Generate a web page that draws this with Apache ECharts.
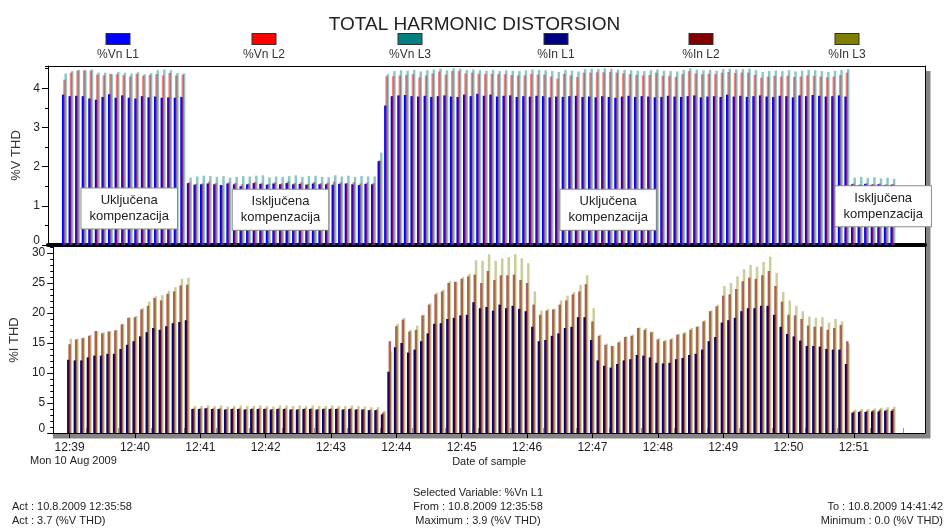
<!DOCTYPE html>
<html><head><meta charset="utf-8">
<script src="https://cdn.jsdelivr.net/npm/echarts@6/dist/echarts.min.js"></script>
<style>html,body{margin:0;padding:0;background:#fff}#c{width:949px;height:529px}</style>
</head><body><div id="c"></div>
<script>
// ---- data ----
const seriesNames = ['%Vn L1', '%Vn L2', '%Vn L3', '%In L1', '%In L2', '%In L3'];
const seriesColors = ['#0000ff', '#ff0000', '#008080', '#000080', '#800000', '#808000'];
const sampleStepSec = 6;           // one sample every 6 s, first sample at 12:39:00
const xTickSec = [0, 60, 120, 180, 240, 300, 360, 420, 480, 540, 600, 660, 720];
const xTickLabels = ['12:39', '12:40', '12:41', '12:42', '12:43', '12:44', '12:45', '12:46', '12:47', '12:48', '12:49', '12:50', '12:51'];
const xMinorSec = [15, 45, 75, 105, 135, 165, 195, 225, 255, 285, 315, 345, 375, 405, 435, 465, 495, 525, 555, 585, 615, 645, 675, 705, 735, 765];

const vnL1 = [
 3.84,3.80,3.81,3.80,3.74,3.71,3.78,3.85,3.76,3.82,3.76,3.74,3.80,3.77,3.79,3.76,3.77,3.76,3.78,
 1.58,1.54,1.55,1.57,1.55,1.53,1.57,1.55,1.50,1.55,1.58,1.56,1.54,1.57,1.55,1.58,1.55,1.56,1.54,1.57,1.55,1.55,1.54,1.56,1.57,1.55,1.53,1.56,1.55,
 2.14,3.56,
 3.80,3.82,3.83,3.80,3.79,3.81,3.78,3.80,3.82,3.79,
 3.78,3.84,3.80,3.86,3.81,3.84,3.79,3.81,3.82,3.78,
 3.80,3.79,3.81,3.80,3.77,3.79,3.78,3.80,3.81,3.78,
 3.79,3.77,3.80,3.78,3.76,3.79,3.81,3.78,3.80,3.79,
 3.77,3.78,3.81,3.79,3.78,3.80,3.82,3.77,3.79,3.80,
 3.78,3.84,3.79,3.81,3.78,3.80,3.82,3.79,3.78,3.81,
 3.80,3.77,3.82,3.80,3.83,3.81,3.79,3.80,3.82,3.79,
 1.55,1.52,1.56,1.54,1.55,1.53,1.54
];
const vnL2 = [
 4.22,4.40,4.45,4.46,4.45,4.35,4.33,4.37,4.36,4.33,4.30,4.37,4.32,4.34,4.36,4.33,4.39,4.33,4.35,
 1.60,1.56,1.57,1.62,1.58,1.52,1.60,1.59,1.55,1.57,1.61,1.58,1.56,1.60,1.57,1.62,1.58,1.60,1.56,1.61,1.58,1.59,1.62,1.60,1.58,1.60,1.57,1.59,1.58,
 2.16,4.31,
 4.31,4.33,4.34,4.36,4.28,4.33,4.38,4.43,4.35,4.44,
 4.44,4.38,4.40,4.37,4.36,4.37,4.36,4.36,4.34,4.33,
 4.33,4.37,4.35,4.35,4.30,4.25,4.37,4.33,4.29,4.40,
 4.40,4.41,4.41,4.42,4.40,4.38,4.36,4.34,4.33,4.34,
 4.40,4.32,4.32,4.29,4.36,4.44,4.38,4.36,4.37,4.36,
 4.40,4.42,4.39,4.40,4.40,4.34,4.27,4.30,4.32,4.30,
 4.32,4.29,4.30,4.33,4.32,4.30,4.28,4.30,4.34,4.40,
 1.57,1.55,1.58,1.56,1.57,1.55,1.56
];
const vnL3 = [
 4.38,4.44,4.47,4.46,4.48,4.40,4.40,4.36,4.42,4.40,4.38,4.41,4.36,4.39,4.46,4.48,4.46,4.39,4.38,
 1.72,1.75,1.77,1.76,1.74,1.76,1.72,1.74,1.76,1.75,1.77,1.78,1.73,1.75,1.74,1.76,1.78,1.74,1.76,1.77,1.74,1.73,1.78,1.75,1.77,1.74,1.76,1.75,1.75,
 2.36,4.36,
 4.44,4.46,4.45,4.47,4.43,4.46,4.48,4.50,4.46,4.51,
 4.50,4.47,4.48,4.46,4.45,4.47,4.44,4.46,4.45,4.44,
 4.46,4.48,4.47,4.46,4.44,4.42,4.47,4.45,4.43,4.49,
 4.50,4.49,4.51,4.50,4.48,4.47,4.46,4.45,4.44,4.46,
 4.48,4.45,4.44,4.43,4.47,4.51,4.48,4.46,4.47,4.45,
 4.49,4.50,4.48,4.49,4.50,4.46,4.42,4.44,4.45,4.44,
 4.46,4.43,4.45,4.47,4.46,4.44,4.42,4.45,4.47,4.49,
 1.72,1.74,1.71,1.73,1.70,1.72,1.69
];
const inL1 = [
 12.2,12.1,12.1,12.6,12.9,12.9,13.2,13.2,14.0,14.7,15.3,16.1,16.8,17.5,17.2,17.8,18.3,18.5,18.8,
 4.0,4.0,4.1,4.0,4.0,3.9,4.0,4.0,3.9,4.0,4.0,4.0,3.9,4.0,4.0,3.9,3.9,4.0,4.0,3.9,4.0,4.0,4.0,3.9,4.0,3.9,3.9,3.8,3.8,
 3.1,10.2,
 14.3,15.0,13.4,13.9,15.3,16.6,18.2,18.3,19.0,19.2,
 19.6,19.7,21.8,20.8,21.0,20.4,21.4,20.8,21.2,20.7,
 20.3,17.7,15.3,15.5,16.2,16.6,17.5,17.7,19.3,19.3,
 15.5,12.1,11.2,10.9,11.5,12.1,12.3,13.0,12.9,12.6,
 11.7,11.6,11.7,12.3,12.5,13.0,13.2,13.9,15.3,16.0,
 18.4,18.8,19.2,20.3,20.8,20.8,21.2,21.2,19.7,17.7,
 16.5,16.1,15.4,14.5,14.5,14.4,14.0,13.9,13.9,11.5,
 3.4,3.5,3.5,3.6,3.6,3.7,3.7
];
const inL2 = [
 14.8,15.6,15.8,16.2,17.0,16.6,16.9,17.1,18.1,19.2,19.3,20.6,21.2,22.5,22.1,23.2,23.6,24.6,24.7,
 4.1,4.1,4.2,4.1,4.1,4.0,4.1,4.1,4.0,4.1,4.1,4.1,4.0,4.1,4.1,4.0,4.0,4.1,4.1,4.0,4.1,4.1,4.1,4.0,4.1,4.0,4.0,3.9,3.9,
 3.4,15.3,
 17.8,18.9,16.9,17.2,19.6,21.4,23.1,23.6,25.0,25.2,
 25.7,26.1,26.4,25.0,27.0,25.5,26.3,26.3,26.4,25.5,
 25.0,21.4,19.7,20.4,20.6,21.4,22.1,23.1,23.6,24.8,
 18.6,16.2,14.7,14.5,15.1,16.0,16.2,17.5,17.2,16.8,
 15.6,15.3,15.6,16.4,16.6,17.2,17.7,18.6,20.3,21.1,
 22.9,23.1,24.0,25.3,25.9,25.7,26.3,27.0,24.5,21.9,
 19.7,19.6,19.0,17.9,17.7,17.7,17.2,17.5,18.0,15.3,
 3.6,3.7,3.7,3.8,3.9,3.9,4.0
];
const inL3 = [
 15.7,15.7,15.9,16.4,17.0,16.8,17.0,17.2,18.2,19.3,19.5,20.8,21.9,22.8,23.0,23.7,24.3,25.7,25.9,
 4.5,4.5,4.6,4.5,4.6,4.4,4.5,4.6,4.5,4.5,4.6,4.5,4.4,4.6,4.6,4.5,4.6,4.5,4.6,4.5,4.5,4.6,4.5,4.5,4.6,4.5,4.4,4.3,4.3,
 3.7,13.6,
 18.2,19.2,17.2,17.9,19.7,21.6,23.4,23.9,25.3,25.2,
 26.0,26.5,28.8,28.7,29.8,28.7,29.1,29.3,29.8,29.1,
 28.3,23.6,20.4,20.7,20.7,22.1,22.9,23.5,24.7,26.3,
 20.8,16.4,14.9,14.5,15.3,16.1,16.4,17.6,17.5,16.9,
 15.8,15.5,15.8,16.5,16.8,17.5,17.8,18.8,20.4,21.4,
 24.5,25.0,26.1,27.3,28.0,27.7,28.5,29.4,26.7,23.5,
 22.1,21.2,20.3,19.4,19.2,19.3,18.4,19.0,18.6,14.9,
 3.9,4.0,4.0,4.1,4.2,4.3,4.4
];

const annotText = ['Uključena\nkompenzacija', 'Isključena\nkompenzacija', 'Uključena\nkompenzacija', 'Isključena\nkompenzacija'];
const annotSec = [58, 196, 495, 746];
const annotVal = [0.93, 0.90, 0.90, 0.99];

const footerCenter = ['Selected Variable: %Vn L1', 'From : 10.8.2009 12:35:58', 'Maximum : 3.9 (%V THD)'];
const footerLeft = ['Act : 10.8.2009 12:35:58', 'Act : 3.7 (%V THD)'];
const footerRight = ['To : 10.8.2009 14:41:42', 'Minimum : 0.0 (%V THD)'];
const dateLabel = 'Mon 10 Aug 2009';

// ---- layout ----
const FONT = '"Liberation Sans", Arial, sans-serif';
const W = 949;
const G_LEFT = 48, G_RIGHT = 24;
const G0_TOP = 66, G0_H = 179, G1_TOP = 247, G1_H = 186;
const SH = 5, SHADOW = '#858585';
const X_MIN = -15, X_MAX = 785.3;
const Y1_MAX = 4.57, Y2_MAX = 31;
const toPairs = arr => arr.map((v, i) => [i * sampleStepSec, v]);

const ctx = document.createElement('canvas').getContext('2d');
ctx.font = '12px "Liberation Sans"';
const legendCenters = [118, 264, 410, 556, 701, 847];

const legends = seriesNames.map((n, k) => {
  const w = Math.max(23, ctx.measureText(n).width);
  return {
    data: [n], left: legendCenters[k] - 5 - w / 2, top: 33, padding: 0,
    itemWidth: 0, itemHeight: 0, selectedMode: false,
    formatter: name => '{i|}\n{n|' + name + '}',
    textStyle: {
      rich: {
        i: { width: 23, height: 10, backgroundColor: seriesColors[k], borderColor: '#333', borderWidth: 1, align: 'center' },
        n: { fontSize: 12, lineHeight: 22, color: '#333', align: 'center', fontFamily: FONT }
      }
    }
  };
});

const zeroLabel = v => v === 0 ? '{z|0}' : String(v);
const yLabel = {
  fontSize: 12, color: '#222', margin: 8, fontFamily: FONT, showMaxLabel: false, formatter: zeroLabel,
  rich: { z: { fontSize: 12, color: '#222', fontFamily: FONT, padding: [0, 0, 9, 0] } }
};

const opac = [1, 0.5, 0.45, 1, 0.62, 0.4];
const dataSets = [vnL1, vnL2, vnL3, inL1, inL2, inL3];
const series = dataSets.map((arr, k) => {
  const s = {
    name: seriesNames[k], type: 'bar',
    xAxisIndex: k < 3 ? 0 : 1, yAxisIndex: k < 3 ? 0 : 1,
    data: toPairs(arr), barWidth: 2.5, barGap: '-50%',
    itemStyle: { color: seriesColors[k], opacity: opac[k] },
    emphasis: { disabled: true }, silent: true
  };
  if (k === 2) {
    s.markPoint = {
      symbol: 'rect', symbolSize: 1, silent: true,
      itemStyle: { color: 'rgba(0,0,0,0)' },
      label: {
        show: true, position: 'inside', formatter: p => p.name,
        backgroundColor: '#fff', borderColor: '#8a8a8a', borderWidth: 1,
        padding: [4, 8], fontSize: 13, lineHeight: 16, color: '#222', fontFamily: FONT, align: 'center'
      },
      data: annotText.map((t, j) => ({ name: t, coord: [annotSec[j], annotVal[j]] }))
    };
  }
  return s;
});

const lineOnly = { axisTick: { show: false }, axisLabel: { show: false }, splitLine: { show: false } };
const gridStyle = { left: G_LEFT, right: G_RIGHT, show: true, backgroundColor: '#fff', borderWidth: 0 };
const frameRight = W - G_RIGHT, frameBottom = G1_TOP + G1_H;

const chart = echarts.init(document.getElementById('c'));
chart.setOption({
  animation: false,
  backgroundColor: '#fff',
  textStyle: { fontFamily: FONT },
  title: {
    text: 'TOTAL HARMONIC DISTORSION', left: 'center', top: 10,
    textStyle: { fontSize: 19, fontWeight: 'normal', color: '#222', fontFamily: FONT }
  },
  legend: legends,
  grid: [
    Object.assign({ top: G0_TOP, height: G0_H }, gridStyle),
    Object.assign({ top: G1_TOP, height: G1_H }, gridStyle)
  ],
  xAxis: [
    { gridIndex: 0, type: 'value', position: 'bottom', min: X_MIN, max: X_MAX,
      axisLine: { onZero: false, lineStyle: { color: '#000', width: 4 } },
      axisTick: { show: false }, axisLabel: { show: false }, splitLine: { show: false } },
    { gridIndex: 1, type: 'value', position: 'bottom', min: X_MIN, max: X_MAX, z: 2,
      axisLine: { onZero: false, lineStyle: { color: '#000', width: 1 } },
      axisTick: { show: true, length: 5, customValues: xTickSec, lineStyle: { color: '#000' } },
      axisLabel: { customValues: xTickSec, formatter: v => xTickLabels[xTickSec.indexOf(v)] || '', fontSize: 12, color: '#222', margin: 9, fontFamily: FONT },
      splitLine: { show: false },
      name: 'Date of sample', nameLocation: 'middle', nameGap: 23,
      nameTextStyle: { fontSize: 11, color: '#222', fontFamily: FONT } },
    { gridIndex: 1, type: 'value', position: 'bottom', min: X_MIN, max: X_MAX,
      axisLine: { show: false, onZero: false },
      axisTick: { show: true, inside: true, length: 5, customValues: xMinorSec, lineStyle: { color: '#999' } },
      axisLabel: { show: false }, splitLine: { show: false } },
    Object.assign({ gridIndex: 0, type: 'value', position: 'top', min: X_MIN, max: X_MAX,
      axisLine: { show: true, onZero: false, lineStyle: { color: '#000', width: 1 } } }, lineOnly)
  ],
  yAxis: [
    { gridIndex: 0, type: 'value', position: 'left', min: 0, max: Y1_MAX, interval: 1,
      axisLine: { show: true, onZero: false, lineStyle: { color: '#000' } },
      axisTick: { show: true, length: 6, lineStyle: { color: '#000' } },
      axisLabel: yLabel, splitLine: { show: false },
      name: '%V THD', nameLocation: 'middle', nameGap: 20, nameRotate: 90,
      nameTextStyle: { fontSize: 13, color: '#333', fontFamily: FONT } },
    { gridIndex: 1, type: 'value', position: 'left', min: 0, max: Y2_MAX, interval: 5,
      axisLine: { show: true, onZero: false, lineStyle: { color: '#000' } },
      axisTick: { show: true, length: 6, lineStyle: { color: '#000' } },
      axisLabel: yLabel, splitLine: { show: false },
      name: '%I THD', nameLocation: 'middle', nameGap: 20, nameRotate: 90,
      nameTextStyle: { fontSize: 13, color: '#333', fontFamily: FONT } },
    { gridIndex: 0, type: 'value', position: 'left', min: 0, max: Y1_MAX, interval: 0.5,
      axisLine: { show: false, onZero: false }, axisTick: { show: true, length: 3, lineStyle: { color: '#000' } },
      axisLabel: { show: false }, splitLine: { show: false } },
    { gridIndex: 1, type: 'value', position: 'left', min: 0, max: Y2_MAX, interval: 1,
      axisLine: { show: false, onZero: false }, axisTick: { show: true, length: 3, lineStyle: { color: '#000' } },
      axisLabel: { show: false }, splitLine: { show: false } },
    Object.assign({ gridIndex: 0, type: 'value', position: 'right', min: 0, max: Y1_MAX,
      axisLine: { show: true, onZero: false, lineStyle: { color: '#000' } } }, lineOnly),
    Object.assign({ gridIndex: 1, type: 'value', position: 'right', min: 0, max: Y2_MAX,
      axisLine: { show: true, onZero: false, lineStyle: { color: '#000' } } }, lineOnly)
  ],
  series: series,
  graphic: [
    // frame drop shadow, derived from the grid layout constants
    { type: 'rect', silent: true, z: 0,
      shape: { x: frameRight + 0.5, y: G0_TOP + SH, width: SH, height: frameBottom - G0_TOP }, style: { fill: SHADOW } },
    { type: 'rect', silent: true, z: 0,
      shape: { x: G_LEFT + SH, y: frameBottom + 0.5, width: frameRight - G_LEFT, height: SH }, style: { fill: SHADOW } },
    { type: 'text', x: 30, y: 455, style: { text: dateLabel, font: '11px ' + FONT, fill: '#222', verticalAlign: 'top' } },
    { type: 'text', x: 478, y: 486, style: { text: footerCenter.join('\n'), font: '11px ' + FONT, lineHeight: 14, fill: '#222', align: 'center', textAlign: 'center', verticalAlign: 'top' } },
    { type: 'text', x: 12, y: 500, style: { text: footerLeft.join('\n'), font: '11px ' + FONT, lineHeight: 14, fill: '#222', verticalAlign: 'top' } },
    { type: 'text', x: 943, y: 500, style: { text: footerRight.join('\n'), font: '11px ' + FONT, lineHeight: 14, fill: '#222', align: 'right', textAlign: 'right', verticalAlign: 'top' } }
  ]
});
</script>
</body></html>
